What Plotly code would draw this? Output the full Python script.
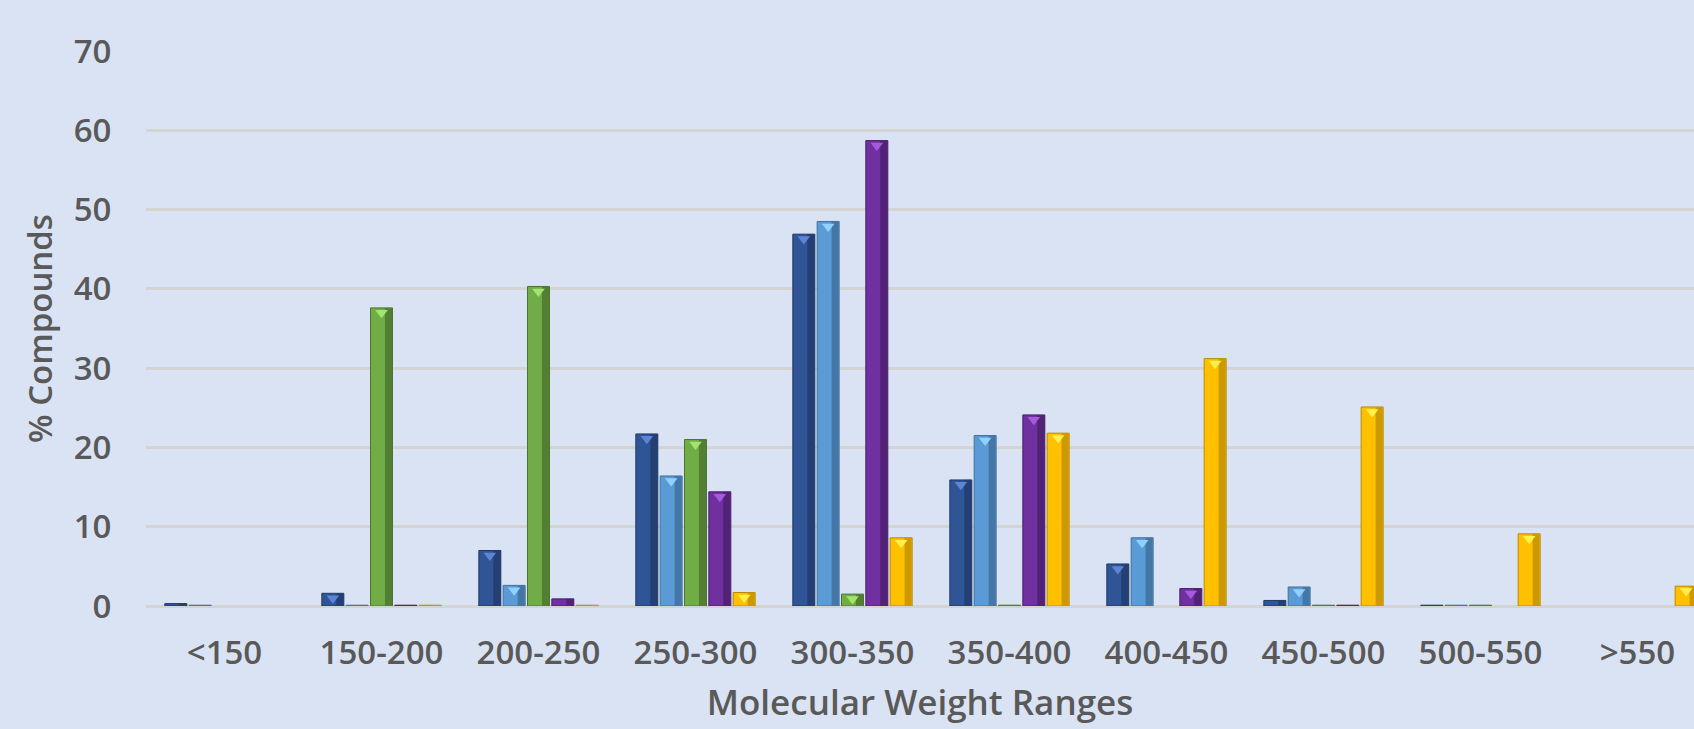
import plotly.graph_objects as go

categories = ["<150", "150-200", "200-250", "250-300", "300-350",
              "350-400", "400-450", "450-500", "500-550", ">550"]

series_a = [0.3, 1.6, 7.0, 21.7, 46.9, 15.9, 5.3, 0.7, 0.1, 0.0]   # dark blue
series_b = [0.1, 0.1, 2.6, 16.4, 48.5, 21.5, 8.6, 2.4, 0.1, 0.0]   # light blue
series_c = [0.0, 37.6, 40.3, 21.0, 1.5, 0.1, 0.0, 0.1, 0.1, 0.0]   # green
series_d = [0.0, 0.1, 0.9, 14.4, 58.7, 24.1, 2.2, 0.1, 0.0, 0.0]   # purple
series_e = [0.0, 0.1, 0.1, 1.7, 8.6, 21.8, 31.2, 25.1, 9.1, 2.5]   # yellow

series = [series_a, series_b, series_c, series_d, series_e]
names = ["Series 1", "Series 2", "Series 3", "Series 4", "Series 5"]
colors = ["#2F5597", "#5B9BD5", "#70AD47", "#7030A0", "#FFC000"]
shades = ["#233f73", "#4477a6", "#527f34", "#522277", "#cc9a00"]
edges = ["#1f3764", "#41709c", "#4a7530", "#4a1e6c", "#b88a00"]
caps = ["#5f84d4", "#8fd2ff", "#a3e470", "#a65bdc", "#fff04d"]

TEXT = "#595959"
BG = "#DAE3F3"
GRID = "#D4D5D2"
FONT = "Open Sans"

x_idx = list(range(len(categories)))
pitch = 0.155
bw = 0.14
start = -0.38
cap_drop = 0.62

fig = go.Figure()
for k, (vals, name, col, sh, ed, cp) in enumerate(zip(series, names, colors, shades, edges, caps)):
    off = start + k * pitch
    lw = [1 if v > 0 else 0 for v in vals]
    fig.add_trace(go.Bar(
        x=x_idx, y=vals, name=name, offset=off, width=bw,
        marker=dict(color=col, line=dict(color=ed, width=lw)),
        showlegend=False, hoverinfo="y+name",
    ))
    fig.add_trace(go.Bar(
        x=x_idx, y=vals, name=name, offset=off + 0.092, width=0.045,
        marker=dict(color=sh, line=dict(width=0)),
        showlegend=False, hoverinfo="skip",
    ))
    cx = [i + off + bw / 2 for i, v in zip(x_idx, vals) if v >= 1.2]
    cy = [v - cap_drop for v in vals if v >= 1.2]
    fig.add_trace(go.Scatter(
        x=cx, y=cy, mode="markers",
        marker=dict(symbol="triangle-down", size=11, color=cp, line=dict(width=0)),
        showlegend=False, hoverinfo="skip", cliponaxis=True,
    ))

fig.update_layout(
    width=1694, height=729,
    barmode="overlay",
    paper_bgcolor=BG, plot_bgcolor=BG,
    margin=dict(l=146, r=0, t=51, b=123),
    font=dict(family=FONT, color=TEXT, size=33),
)
fig.update_xaxes(
    range=[-0.5, 9.36],
    tickmode="array", tickvals=x_idx, ticktext=categories,
    tickfont=dict(family=FONT, size=33, color=TEXT, weight=600),
    ticks="outside", ticklen=17, tickcolor="rgba(0,0,0,0)",
    showgrid=False, zeroline=False, showline=False,
    title=dict(text="Molecular Weight Ranges",
               font=dict(family=FONT, size=35, color=TEXT, weight=600),
               standoff=17),
)
fig.update_yaxes(
    range=[0, 70], dtick=10,
    tickfont=dict(family=FONT, size=33, color=TEXT, weight=600),
    ticks="outside", ticklen=27, tickcolor="rgba(0,0,0,0)",
    showgrid=True, gridcolor=GRID, gridwidth=2.5,
    zeroline=True, zerolinecolor=GRID, zerolinewidth=2.5,
    showline=False,
    title=dict(text="% Compounds",
               font=dict(family=FONT, size=33, color=TEXT, weight=600),
               standoff=11),
)

fig.write_html(
    "out.html",
    config={"displayModeBar": False},
    post_script="document.body.style.margin='0';document.body.style.padding='0';"
                "document.documentElement.style.overflow='hidden';",
)
